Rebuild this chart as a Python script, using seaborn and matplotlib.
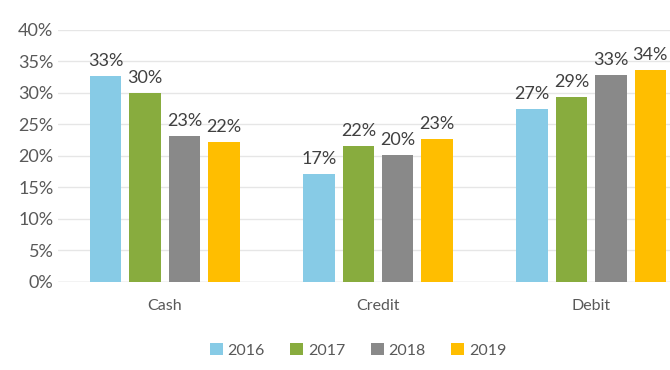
import pandas as pd
import matplotlib.pyplot as plt
import seaborn as sns
from matplotlib.ticker import PercentFormatter

# payment method share by year
methods = ["Cash", "Credit", "Debit"]
years = ["2016", "2017", "2018", "2019"]
share_2016 = [32.7, 17.2, 27.4]
share_2017 = [30.0, 21.6, 29.4]
share_2018 = [23.1, 20.2, 32.8]
share_2019 = [22.2, 22.7, 33.7]
colors = ["#87CBE6", "#88AC3E", "#898989", "#FFBE00"]

rows = []
for yr, vals in zip(years, [share_2016, share_2017, share_2018, share_2019]):
    for m, v in zip(methods, vals):
        rows.append({"Method": m, "Year": yr, "Share": v})
df = pd.DataFrame(rows)

sns.set_style("white")
plt.rcParams['font.family'] = ['Lato', 'DejaVu Sans']

fig = plt.figure(figsize=(6.7, 3.7), dpi=100)
ax = fig.add_axes([0.087, 0.238, 0.913, 0.681])

sns.barplot(data=df, x="Method", y="Share", hue="Year", palette=colors,
            saturation=1, width=0.74, linewidth=0, ax=ax)

# leave a gap between neighbouring bars
for p in ax.patches:
    w = p.get_width()
    p.set_x(p.get_x() + w * 0.1)
    p.set_width(w * 0.8)

for c in ax.containers:
    ax.bar_label(c, labels=[f"{v:.0f}%" for v in c.datavalues], padding=5,
                 fontsize=13, color="#404040")

ax.set_ylim(0, 40)
ax.set_xlim(-0.5, 2.37)
ax.set_yticks(range(0, 41, 5))
ax.yaxis.set_major_formatter(PercentFormatter(decimals=0))
ax.grid(axis="y", color="#E6E6E6", linewidth=1)
ax.set_axisbelow(True)
sns.despine(ax=ax, left=True, top=True, right=True, bottom=True)
ax.axhline(0, color="#D9D9D9", linewidth=1, zorder=0)
ax.tick_params(axis="both", length=0, labelsize=13, labelcolor="#595959")
ax.tick_params(axis="x", pad=12, labelsize=11.5)
ax.set_xlabel("")
ax.set_ylabel("")

ax.legend(loc="upper center", bbox_to_anchor=(0.49, -0.185), ncol=4, frameon=False,
          fontsize=11.5, labelcolor="#595959", handlelength=0.8, handleheight=0.8,
          handletextpad=0.3, columnspacing=1.6)

plt.savefig("out.png", dpi=100)
